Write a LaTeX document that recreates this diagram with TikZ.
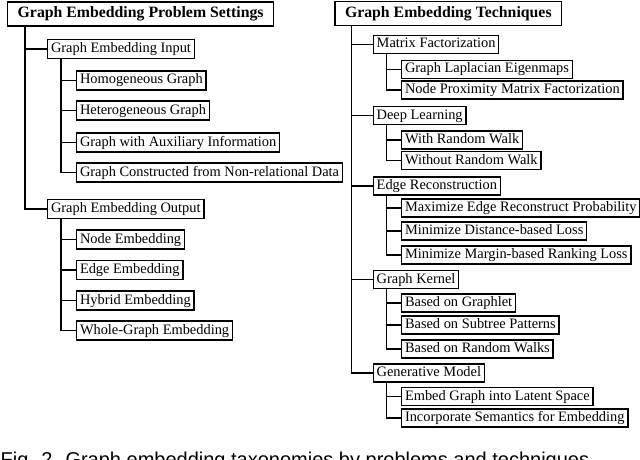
\documentclass[tikz,border=0pt]{standalone}
\usepackage{fontspec}
\setmainfont{Liberation Serif}
\newfontfamily\capfont{Liberation Sans}
\begin{document}
\begin{tikzpicture}[x=1pt,y=-1pt,
  box/.style={draw, line width=1.4pt, anchor=west, inner xsep=3.3pt, inner ysep=0pt,
    minimum height=19pt, font=\fontsize{14.4}{16}\selectfont, text height=10pt, text depth=3pt},
  rbox/.style={box, minimum height=18pt},
  ttl/.style={box, font=\fontsize{15.8}{18}\selectfont\bfseries, minimum height=24pt,
    inner xsep=10pt, text height=11pt, text depth=3.5pt},
  conn/.style={line width=1.4pt}]
\useasboundingbox (0,0) rectangle (640,460);
% left tree
\node[ttl] (T1) at (7,14) {Graph Embedding Problem Settings};
\node[box] (gin) at (47,49) {Graph Embedding Input};
\node[box] (homo) at (76,80.5) {Homogeneous Graph};
\node[box] (hetero) at (76,110.5) {Heterogeneous Graph};
\node[box] (aux) at (76,142.5) {Graph with Auxiliary Information};
\node[box] (nonrel) at (76,172.5) {Graph Constructed from Non-relational Data};
\node[box] (gout) at (47,209) {Graph Embedding Output};
\node[box] (nodee) at (76,239.5) {Node Embedding};
\node[box] (edgee) at (76,270) {Edge Embedding};
\node[box] (hyb) at (76,300.5) {Hybrid Embedding};
\node[box] (whole) at (76,330.5) {Whole-Graph Embedding};
\draw[conn] ([xshift=18pt]T1.south west) |- (gin.west);
\draw[conn] ([xshift=18pt]T1.south west) |- (gout.west);
\foreach \c in {homo,hetero,aux,nonrel}
  \draw[conn] ([xshift=14pt]gin.south west) |- (\c.west);
\foreach \c in {nodee,edgee,hyb,whole}
  \draw[conn] ([xshift=14pt]gout.south west) |- (\c.west);
% right tree
\node[ttl] (T2) at (334.3,13.5) {Graph Embedding Techniques};
\node[rbox] (mf) at (372.7,44.5) {Matrix Factorization};
\node[rbox] (gle) at (401,69.5) {Graph Laplacian Eigenmaps};
\node[rbox] (npmf) at (401,90) {Node Proximity Matrix Factorization};
\node[rbox] (dl) at (372.7,115.5) {Deep Learning};
\node[rbox] (wrw) at (401,140) {With Random Walk};
\node[rbox] (worw) at (401,160.5) {Without Random Walk};
\node[rbox] (er) at (372.7,186) {Edge Reconstruction};
\node[rbox] (mer) at (401,208) {Maximize Edge Reconstruct Probability};
\node[rbox] (mdl) at (401,231) {Minimize Distance-based Loss};
\node[rbox] (mmr) at (401,255) {Minimize Margin-based Ranking Loss};
\node[rbox] (gk) at (372.7,279.5) {Graph Kernel};
\node[rbox] (bog) at (401,303) {Based on Graphlet};
\node[rbox] (bos) at (401,325) {Based on Subtree Patterns};
\node[rbox] (bor) at (401,349) {Based on Random Walks};
\node[rbox] (gm) at (372.7,373) {Generative Model};
\node[rbox] (egl) at (401,396.5) {Embed Graph into Latent Space};
\node[rbox] (ise) at (401,418) {Incorporate Semantics for Embedding};
\foreach \c in {mf,dl,er,gk,gm}
  \draw[conn] ([xshift=17.4pt]T2.south west) |- (\c.west);
\foreach \p/\c in {mf/gle,mf/npmf,dl/wrw,dl/worw,er/mer,er/mdl,er/mmr,gk/bog,gk/bos,gk/bor,gm/egl,gm/ise}
  \draw[conn] ([xshift=14pt]\p.south west) |- (\c.west);
% caption (cut off at the bottom, as in the reference)
\begin{scope}
\clip (0,0) rectangle (640,460);
\node[anchor=base west, inner sep=0pt, font=\capfont\fontsize{20}{24}\selectfont] (cap) at (0.5,466)
  {Fig. 2. Graph embedding taxonomies by problems and techniques};
\end{scope}
\end{tikzpicture}
\end{document}
